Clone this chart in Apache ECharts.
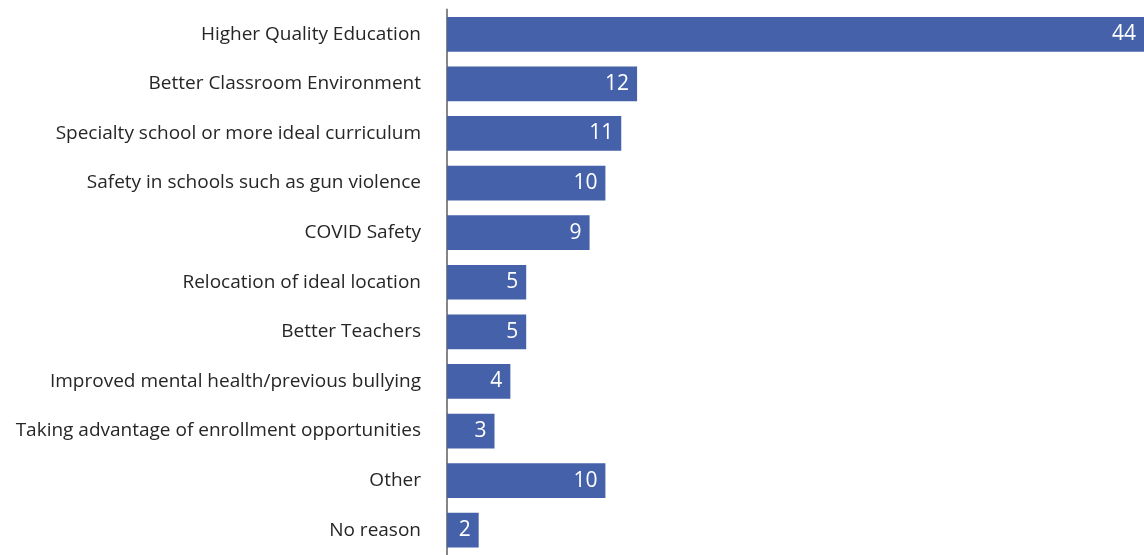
<!DOCTYPE html>
<html><head><meta charset="utf-8">
<script src="https://cdn.jsdelivr.net/npm/echarts@6/dist/echarts.min.js"></script>
<style>html,body{margin:0;padding:0;background:#fff}#c{width:1144px;height:555px}</style>
</head><body><div id="c"></div>
<script>
const categories = [
  "Higher Quality Education",
  "Better Classroom Environment",
  "Specialty school or more ideal curriculum",
  "Safety in schools such as gun violence",
  "COVID Safety",
  "Relocation of ideal location",
  "Better Teachers",
  "Improved mental health/previous bullying",
  "Taking advantage of enrollment opportunities",
  "Other",
  "No reason"
];
const values = [44, 12, 11, 10, 9, 5, 5, 4, 3, 10, 2];

const chart = echarts.init(document.getElementById('c'), null, {renderer: 'canvas'});
chart.setOption({
  animation: false,
  grid: {left: 447, top: 9.5, width: 701, height: 550, containLabel: false},
  xAxis: {type: 'value', min: 0, max: 44, show: false},
  yAxis: {
    type: 'category', data: categories, inverse: true,
    axisLine: {show: true, lineStyle: {color: '#868686', width: 2}},
    axisTick: {show: false},
    axisLabel: {margin: 26, color: '#262626', fontSize: 19, fontFamily: 'Open Sans'}
  },
  series: [{
    type: 'bar', data: values, barCategoryGap: '30%',
    itemStyle: {color: '#4461a9'},
    label: {show: true, position: 'insideRight', distance: 8, color: '#fff', fontSize: 21, fontFamily: 'Open Sans'}
  }]
});
</script></body></html>
